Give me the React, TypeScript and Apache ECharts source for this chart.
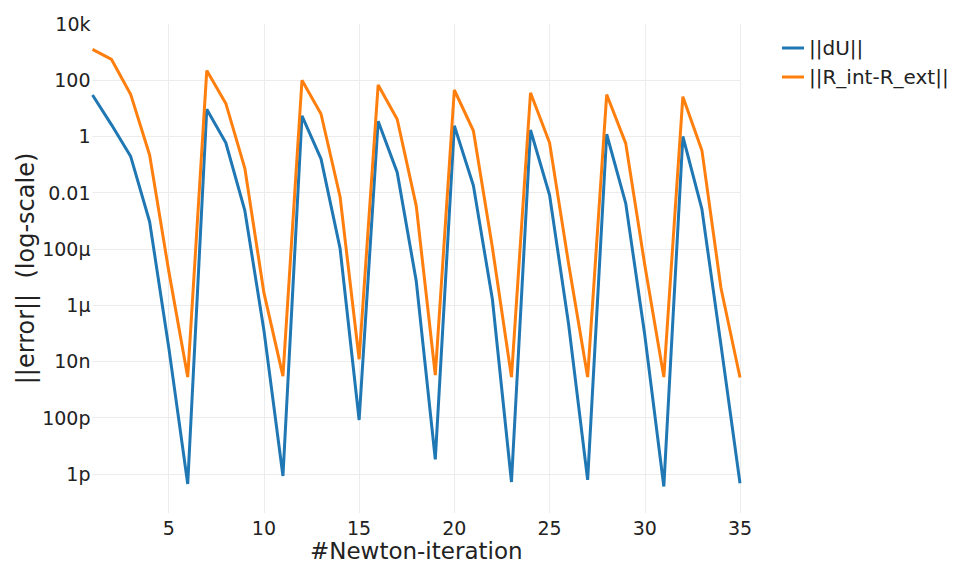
import React, { useEffect, useRef } from "react";
import * as echarts from "echarts";

// Newton iteration numbers
const iterations = [
  1, 2, 3, 4, 5, 6, 7, 8, 9, 10, 11, 12, 13, 14, 15, 16, 17, 18,
  19, 20, 21, 22, 23, 24, 25, 26, 27, 28, 29, 30, 31, 32, 33, 34, 35,
];

// ||dU||
const dU = [
  30, 2.6, 0.2, 9.3e-4, 3.3e-8, 4.4e-13,
  9.3, 0.6, 2.3e-3, 1.3e-7, 8.5e-13,
  5.4, 0.16, 1.05e-4, 8.3e-11,
  3.5, 0.053, 7.2e-6, 3.3e-12,
  2.4, 0.018, 1.6e-6, 5.2e-13,
  1.7, 8.3e-3, 2.1e-7, 6.2e-13,
  1.2, 4.2e-3, 8.7e-8, 3.6e-13,
  1.0, 2.6e-3, 3.9e-8, 4.7e-13,
];

// ||R_int-R_ext||
const residual = [
  1260, 550, 32, 0.22, 1.7e-5, 2.8e-9,
  220, 15, 0.074, 2.8e-6, 3e-9,
  100, 6.3, 7.2e-3, 1.2e-8,
  68, 4.1, 3.4e-3, 3.3e-9,
  45, 1.6, 1.1e-4, 2.8e-9,
  36, 0.6, 3e-5, 2.8e-9,
  31, 0.57, 2.7e-5, 2.8e-9,
  26, 0.32, 4.1e-6, 2.7e-9,
];

const seriesNames = ["||dU||", "||R_int-R_ext||"];

// x tick values
const xTicks = [5, 10, 15, 20, 25, 30, 35];

// y tick values and their labels
const yTickValues = [1e-12, 1e-10, 1e-8, 1e-6, 1e-4, 1e-2, 1, 100, 1e4];
const yTickLabels = ["1p", "100p", "10n", "1µ", "100µ", "0.01", "1", "100", "10k"];

// axis range (in data units)
const yMinValue = Math.pow(10, -13.387);
const yMaxValue = 1e4;
const xMin = 1;
const xMax = 35;

const FONT = "DejaVu Sans";
const TEXT = "#222";

export default function App() {
  const ref = useRef<HTMLDivElement>(null);

  useEffect(() => {
    document.body.style.margin = "0";
    if (!ref.current) return;
    const chart = echarts.init(ref.current, undefined, { renderer: "svg" });

    const yLog = yTickValues.map((v) => Math.log10(v));
    const yGridLog = yLog.filter((v) => v < Math.log10(yMaxValue));

    const toSeries = (vals: number[]) =>
      iterations.map((x, i) => [x, Math.log10(vals[i])]);

    const option: any = {
      animation: false,
      backgroundColor: "#fff",
      grid: {
        left: 92.5,
        right: 225,
        top: 24,
        bottom: 51,
        containLabel: false,
        outerBoundsMode: "none",
      },
      legend: {
        orient: "vertical",
        left: 777,
        top: 33,
        itemWidth: 22,
        itemHeight: 3,
        itemGap: 9,
        icon: "rect",
        textStyle: { fontSize: 20, color: TEXT, fontFamily: FONT },
        data: seriesNames,
      },
      xAxis: {
        type: "value",
        min: xMin,
        max: xMax,
        axisLine: { show: false },
        axisTick: { show: false, customValues: xTicks },
        axisLabel: {
          customValues: xTicks,
          fontSize: 19,
          lineHeight: 19,
          color: TEXT,
          fontFamily: FONT,
          margin: 5,
        },
        splitLine: { show: true, lineStyle: { color: "#ececec", width: 1 } },
        name: "#Newton-iteration",
        nameLocation: "middle",
        nameGap: 26,
        nameMoveOverlap: false,
        nameTextStyle: {
          fontSize: 23,
          lineHeight: 24,
          color: TEXT,
          fontFamily: FONT,
        },
      },
      yAxis: {
        type: "value",
        min: Math.log10(yMinValue),
        max: Math.log10(yMaxValue),
        axisLine: { show: false },
        axisTick: { show: false, customValues: yGridLog },
        axisLabel: {
          customValues: yLog,
          fontSize: 19,
          color: TEXT,
          fontFamily: FONT,
          margin: 2,
          formatter: (v: number) => {
            let best = 0;
            for (let i = 0; i < yLog.length; i++) {
              if (Math.abs(yLog[i] - v) < Math.abs(yLog[best] - v)) best = i;
            }
            return yTickLabels[best];
          },
        },
        splitLine: { show: true, lineStyle: { color: "#ececec", width: 1 } },
        name: "||error||  (log-scale)",
        nameLocation: "middle",
        nameGap: 55,
        nameMoveOverlap: false,
        nameRotate: 90,
        nameTextStyle: { fontSize: 24, color: TEXT, fontFamily: FONT },
      },
      series: [
        {
          name: seriesNames[0],
          type: "line",
          data: toSeries(dU),
          showSymbol: false,
          symbol: "none",
          color: "#1f77b4",
          lineStyle: { width: 3, color: "#1f77b4" },
        },
        {
          name: seriesNames[1],
          type: "line",
          data: toSeries(residual),
          showSymbol: false,
          symbol: "none",
          color: "#ff7f0e",
          lineStyle: { width: 3, color: "#ff7f0e" },
        },
      ],
    };

    chart.setOption(option);
    return () => chart.dispose();
  }, []);

  return <div ref={ref} style={{ width: 965, height: 564 }} />;
}
